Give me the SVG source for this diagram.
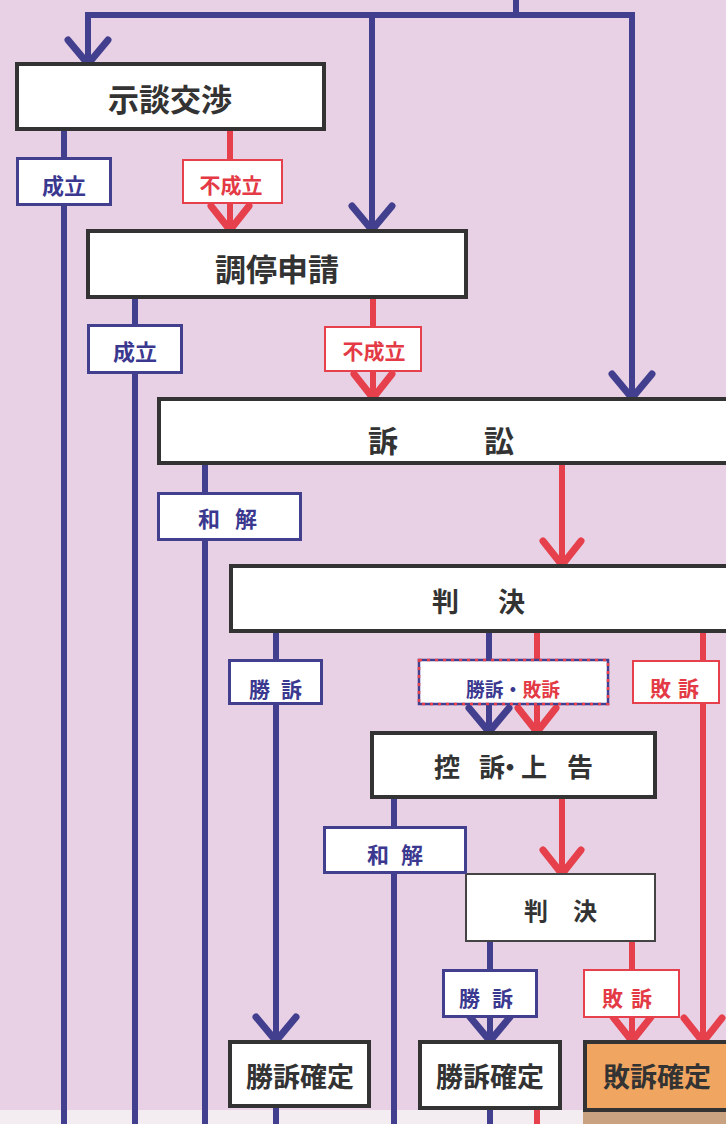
<svg xmlns="http://www.w3.org/2000/svg" width="726" height="1124" viewBox="0 0 726 1124">
<style>
.bl{fill:none;stroke:#433f8f;stroke-width:6}
.rd{fill:none;stroke:#e5404b;stroke-width:6}
.box{fill:#ffffff;stroke:#333333;stroke-width:4}
.lb{fill:#ffffff;stroke:#433f8f;stroke-width:3}
.lr{fill:#ffffff;stroke:#e5404b;stroke-width:2}
text{font-family:"Noto Sans CJK JP","Noto Sans CJK SC",sans-serif;font-weight:700;dominant-baseline:central}
.tm{fill:#333333}
.tb{fill:#3b3890}
.tr{fill:#e33a45}
</style>
<defs>
<marker id="ab" markerUnits="userSpaceOnUse" markerWidth="44" markerHeight="56" viewBox="-34 -28 44 56" refX="0" refY="0" orient="auto" overflow="visible">
<path d="M-24,-20 L0,0 L-24,20" fill="none" stroke="#433f8f" stroke-width="7" stroke-linecap="round" stroke-linejoin="miter"/>
</marker>
<marker id="ar" markerUnits="userSpaceOnUse" markerWidth="44" markerHeight="56" viewBox="-34 -28 44 56" refX="0" refY="0" orient="auto" overflow="visible">
<path d="M-24,-19 L0,0 L-24,19" fill="none" stroke="#e5404b" stroke-width="7" stroke-linecap="round" stroke-linejoin="miter"/>
</marker>
</defs>
<rect x="0" y="0" width="726" height="1124" fill="#e8d0e5"/>
<rect x="0" y="1110" width="726" height="14" fill="#f3ecf1"/>
<rect x="583" y="1110" width="143" height="14" fill="#c9a282"/>

<g id="connectors">
<path class="bl" d="M516,0 V15"/>
<path class="bl" d="M85,15 H635"/>
<path class="bl" d="M88,15 V64" marker-end="url(#ab)"/>
<path class="bl" d="M372,15 V230" marker-end="url(#ab)"/>
<path class="bl" d="M632,15 V398" marker-end="url(#ab)"/>
<path class="bl" d="M64,131 V1124"/>
<path class="bl" d="M135,299 V1124"/>
<path class="bl" d="M205,465 V1124"/>
<path class="bl" d="M276,633 V1041" marker-end="url(#ab)"/>
<path class="bl" d="M276,1106 V1124"/>
<path class="bl" d="M489,633 V732" marker-end="url(#ab)"/>
<path class="bl" d="M394,799 V1124"/>
<path class="bl" d="M490,942 V1041" marker-end="url(#ab)"/>
<path class="bl" d="M490,1108 V1124"/>
<path class="rd" d="M230,131 V230" marker-end="url(#ar)"/>
<path class="rd" d="M373,299 V398" marker-end="url(#ar)"/>
<path class="rd" d="M562,465 V565" marker-end="url(#ar)"/>
<path class="rd" d="M537,633 V732" marker-end="url(#ar)"/>
<path class="rd" d="M703,633 V1042" marker-end="url(#ar)"/>
<path class="rd" d="M562,799 V874" marker-end="url(#ar)"/>
<path class="rd" d="M632,942 V1041" marker-end="url(#ar)"/>
<path class="rd" d="M537,1108 V1124"/>
</g>

<g id="n-jidan">
<rect class="box" x="17" y="64" width="307" height="65"/>
<text class="tm" x="170" y="97" font-size="31" text-anchor="middle">示談交渉</text>
</g>
<g id="n-chotei">
<rect class="box" x="88" y="231" width="378" height="66"/>
<text class="tm" x="277" y="267" font-size="31" text-anchor="middle">調停申請</text>
</g>
<g id="n-sosho">
<rect class="box" x="159" y="399" width="580" height="64"/>
<text class="tm" x="368 427 484" y="439" font-size="30">訴　訟</text>
</g>
<g id="n-hanketsu1">
<rect class="box" x="231" y="566" width="510" height="65"/>
<text class="tm" x="432 465 498" y="600" font-size="27">判　決</text>
</g>
<g id="n-koso">
<rect class="box" x="372" y="733" width="283" height="64"/>
<text class="tm" x="434 460 479 497 521 547 567" y="765" font-size="26">控 訴・上 告</text>
</g>
<g id="n-hanketsu2">
<rect x="466" y="874" width="189" height="67" fill="#ffffff" stroke="#444444" stroke-width="2"/>
<text class="tm" x="524 550 573" y="909" font-size="24">判 決</text>
</g>
<g id="n-shoso1">
<rect class="box" x="230" y="1042" width="139" height="64"/>
<text class="tm" x="300" y="1075" font-size="27" text-anchor="middle">勝訴確定</text>
</g>
<g id="n-shoso2">
<rect class="box" x="420" y="1042" width="140" height="66"/>
<text class="tm" x="490" y="1075" font-size="27" text-anchor="middle">勝訴確定</text>
</g>
<g id="n-haiso">
<rect x="585" y="1042" width="150" height="68" fill="#f0a560" stroke="#333333" stroke-width="4"/>
<text class="tm" x="657" y="1075" font-size="27" text-anchor="middle">敗訴確定</text>
</g>

<g id="l-seiritsu1">
<rect class="lb" x="17.5" y="158.5" width="93" height="46"/>
<text class="tb" x="64" y="184" font-size="22" text-anchor="middle">成立</text>
</g>
<g id="l-fuseiritsu1">
<rect class="lr" x="183" y="160" width="99" height="43"/>
<text class="tr" x="231" y="184" font-size="21" text-anchor="middle">不成立</text>
</g>
<g id="l-seiritsu2">
<rect class="lb" x="88.5" y="325.5" width="93" height="47"/>
<text class="tb" x="135" y="350" font-size="22" text-anchor="middle">成立</text>
</g>
<g id="l-fuseiritsu2">
<rect class="lr" x="325" y="327" width="96" height="44"/>
<text class="tr" x="374" y="350" font-size="21" text-anchor="middle">不成立</text>
</g>
<g id="l-wakai1">
<rect class="lb" x="158.5" y="493.5" width="142" height="46"/>
<text class="tb" x="198 220 235" y="517" font-size="22">和 解</text>
</g>
<g id="l-shoso1">
<rect class="lb" x="229.5" y="660.5" width="92" height="43"/>
<text class="tb" x="249 271 281" y="688" font-size="21">勝 訴</text>
</g>
<g id="l-shohai">
<rect x="419" y="660" width="189" height="44" fill="#ffffff" stroke="#433f8f" stroke-width="2.5"/>
<rect x="419" y="660" width="189" height="44" fill="none" stroke="#e5404b" stroke-width="2.5" stroke-dasharray="3 5"/>
<text x="466" y="688" font-size="19" textLength="94" lengthAdjust="spacingAndGlyphs"><tspan class="tb">勝訴・</tspan><tspan class="tr">敗訴</tspan></text>
</g>
<g id="l-haiso1">
<rect class="lr" x="633" y="661" width="86" height="42"/>
<text class="tr" x="650 671 678" y="687" font-size="21">敗 訴</text>
</g>
<g id="l-wakai2">
<rect class="lb" x="324.5" y="827.5" width="141" height="45"/>
<text class="tb" x="367 389 401" y="853" font-size="22">和 解</text>
</g>
<g id="l-shoso2">
<rect class="lb" x="443.5" y="970.5" width="93" height="46"/>
<text class="tb" x="459 480 492" y="997" font-size="21">勝 訴</text>
</g>
<g id="l-haiso2">
<rect class="lr" x="584" y="970" width="95" height="47"/>
<text class="tr" x="602 623 631" y="997" font-size="21">敗 訴</text>
</g>
</svg>
